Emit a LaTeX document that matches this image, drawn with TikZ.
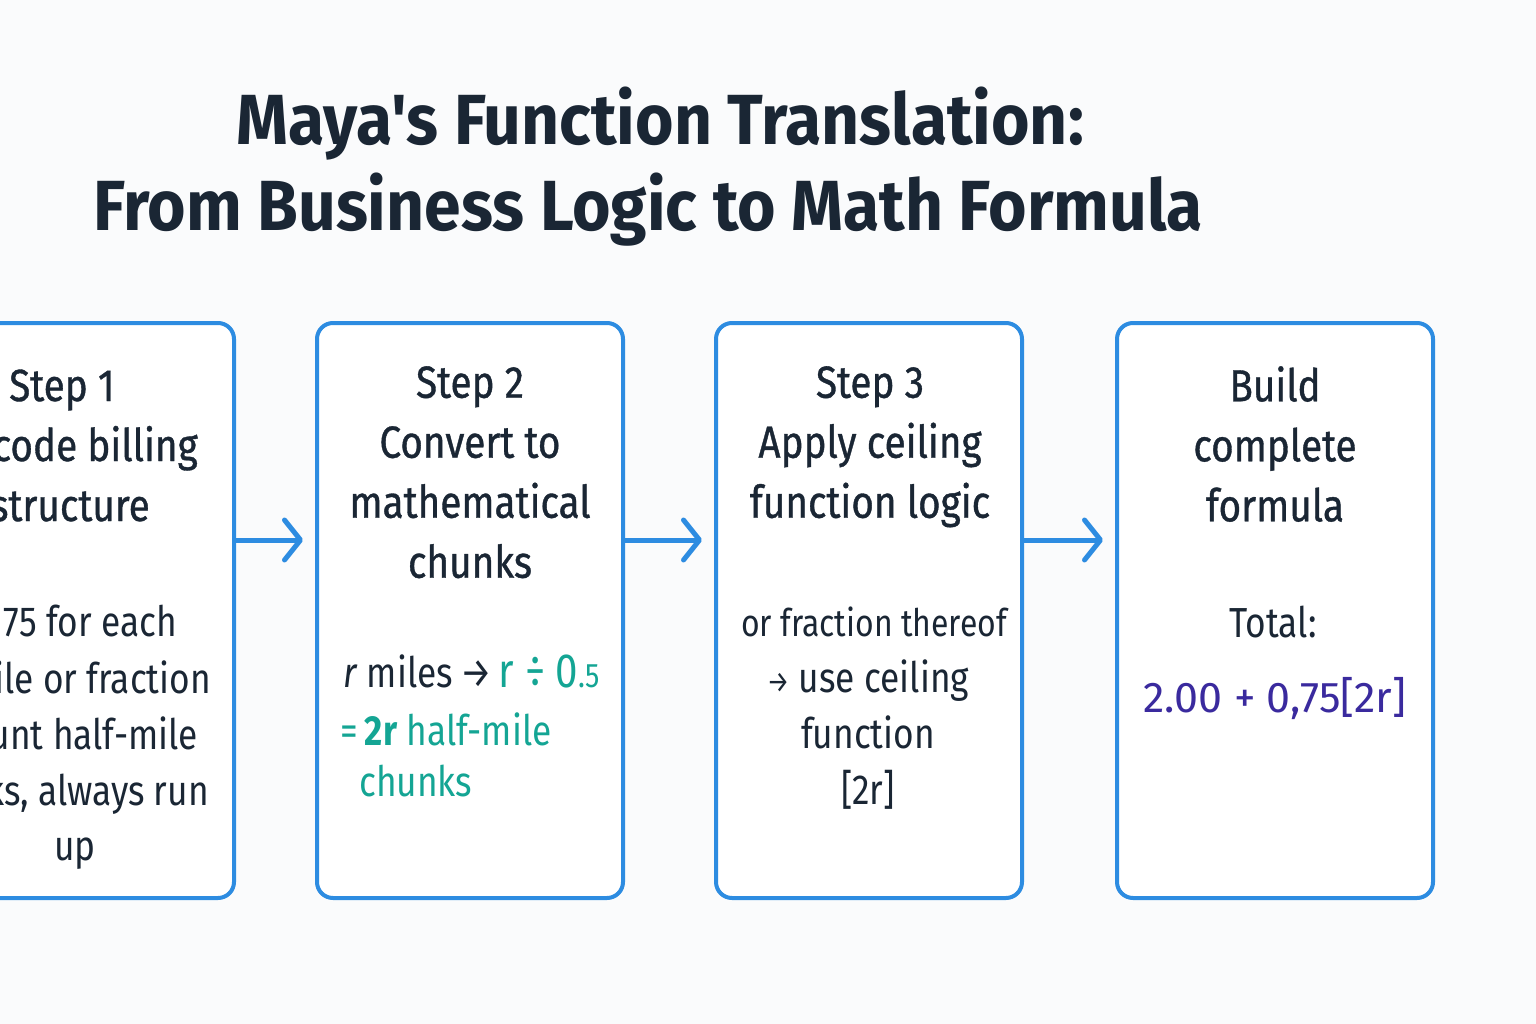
\documentclass[tikz,border=0pt]{standalone}
\usepackage{fontspec}
\setmainfont{Fira Sans}
\newfontfamily\etroit{Fira Sans}[FakeStretch=0.84]
\newfontfamily\moyen{Fira Sans}[FakeStretch=0.86, FakeBold=0.8]
\newfontfamily\titre{Fira Sans}[FakeStretch=0.93]
\usetikzlibrary{arrows.meta,positioning}
\definecolor{fond}{RGB}{250,251,252}
\definecolor{cadre}{RGB}{45,140,225}
\definecolor{encre}{RGB}{26,38,52}
\definecolor{sarcelle}{RGB}{20,165,148}
\definecolor{violet}{RGB}{58,42,158}

\begin{document}
\begin{tikzpicture}[x=1pt, y=-1pt, text=encre,
  box/.style={draw=cadre, line width=4pt, rounded corners=16pt, fill=white,
    minimum width=306pt, minimum height=575pt, inner sep=0pt},
  head/.style={anchor=north, align=center, inner sep=0pt,
    font=\moyen\fontsize{45}{60}\selectfont},
  corps/.style={inner sep=0pt, font=\etroit\fontsize{42}{56}\selectfont},
  flow/.style={cadre, line width=5pt, shorten >=12pt,
    -{Straight Barb[length=16pt,width=40pt,round]}}]
\fill[fond] (0,0) rectangle (1536,1024);
\useasboundingbox (0,0) rectangle (1536,1024);
\clip (0,0) rectangle (1536,1024);

% title
\node[anchor=base, inner sep=0pt, font=\bfseries\titre\fontsize{71}{80}\selectfont] (t1) at (660,145) {Maya's Function Translation:};
\node[anchor=base, inner sep=0pt, font=\bfseries\titre\fontsize{71}{80}\selectfont] (t2) at (648,231) {From Business Logic to Math Formula};

% the four steps
\node[box] (s1) at (81,610.5) {};
\node[box, right=79pt of s1] (s2) {};
\node[box, right=89pt of s2] (s3) {};
\node[box, right=91pt of s3, minimum width=316pt] (s4) {};

\coordinate (fleche) at (0,540);
\draw[flow] (s1.east |- fleche) -- (s2.west |- fleche);
\draw[flow] (s2.east |- fleche) -- (s3.west |- fleche);
\draw[flow] (s3.east |- fleche) -- (s4.west |- fleche);

% step 1, cut by the page edge
\node[head, anchor=base] (a1) at (62,401) {Step 1};
\node[head, anchor=base east] (a1b) at (198,461) {code billing};
\node[head, anchor=base east] (a1c) at (150,521) {structure};
\foreach \txt/\xx/\yy [count=\k] in {75 for each/177/636, mile or fraction/211/693,
    ount half-mile/198/749, {nks, always run}/209/805}
  \node[corps, anchor=base east] (b1\k) at (\xx,\yy) {\txt};
\node[corps, anchor=base] (c1) at (75,860) {up};

% step 2
\node[head] (a2) at (470,366) {Step 2\\Convert to\\mathematical\\chunks};
\node[corps, anchor=base west] (b2) at (343,687)
  {\textit{r} miles\,→\,\fontsize{48}{56}\selectfont\textcolor{sarcelle}{r ÷ 0\fontsize{34}{34}\selectfont.5}};
\node[corps, anchor=base west, text=sarcelle] (c2) at (340,745) {=\,\textbf{2r} half-mile};
\node[corps, anchor=base west, text=sarcelle] (d2) at (359,796) {chunks};

% step 3
\node[head] (a3) at (870,366) {Step 3\\Apply ceiling\\function logic};
\node[corps, anchor=base] (b3) at (874,636) {\fontsize{38}{56}\selectfont or fraction thereof};
\node[corps, anchor=north, align=center] (c3) at (868,660)
  {{\fontsize{30}{30}\selectfont→} use ceiling\\function\\{[}2r]};

% build
\node[head] (a4) at (1275,366) {Build\\complete\\formula};
\node[corps, anchor=base] (b4) at (1273,637) {Total:};
\node[corps, anchor=base, text=violet, font=\fontsize{43}{56}\selectfont] (c4) at (1275,712) {2.00 + 0,75[2r]};
\end{tikzpicture}
\end{document}
